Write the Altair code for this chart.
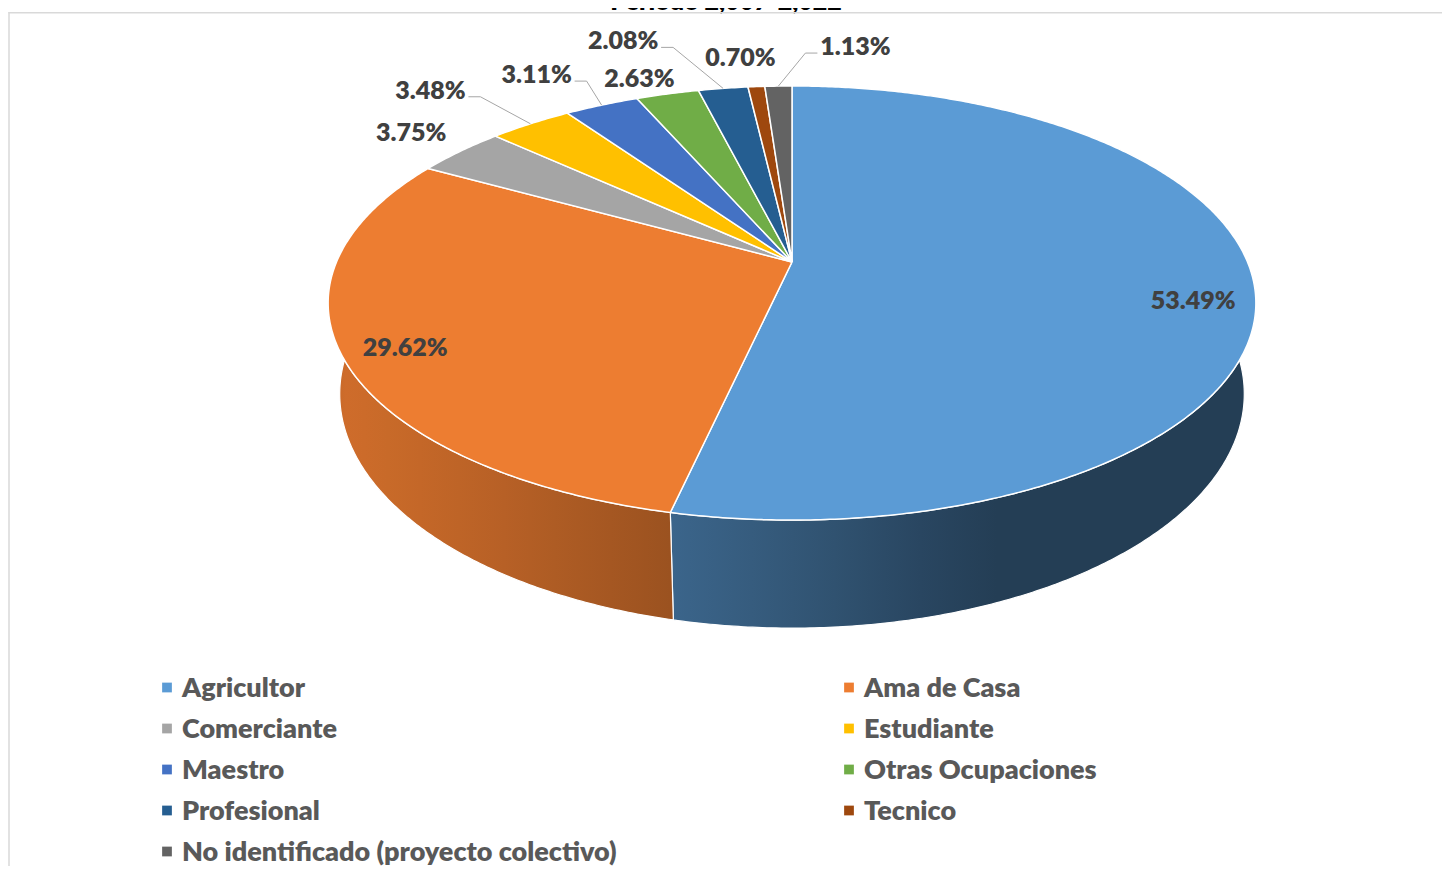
import math
import pandas as pd
import altair as alt

# ---------------- data ----------------
TITLE = "Período 2,007-2,022"
CATEGORIES = [
    "Agricultor",
    "Ama de Casa",
    "Comerciante",
    "Estudiante",
    "Maestro",
    "Otras Ocupaciones",
    "Profesional",
    "Tecnico",
    "No identificado (proyecto colectivo)",
]
PERCENTS = [53.49, 29.62, 3.75, 3.48, 3.11, 2.63, 2.08, 0.70, 1.13]
COLORS = ["#5B9BD5", "#ED7D31", "#A5A5A5", "#FFC000", "#4472C4",
          "#70AD47", "#255E91", "#9E480E", "#636363"]

# ---------------- layout / style (pixels of the drawing) ----------------
W, H = 1434, 858
CX, CY = 784.0, 254.0          # projected pie centre
RX, RY = 455.5, 209.3          # radii of the tilted disc
DEPTH = 5.29                   # perspective distance (in radii)
THICK = 87.6                   # pie thickness
BOTTOM_SHRINK = 0.975
INSIDE_R = 0.87
# label nudges (like dragged Excel labels), relative to slice anchor
LABEL_NUDGE = [(0, 18), (1, 5), (-49, -19), (-100, -34), (-65, -31),
               (-28, -16), (-100, -48), (-16, -30), (77, -40)]
LEGEND_COL_X = [159, 841]
LEGEND_ROW0 = 679.5
LEGEND_ROW_STEP = 41
FONT = "Lato"
WEIGHT = 800


def project(a_deg, r=1.0, bottom=False):
    a = math.radians(a_deg)
    u = r * math.sin(a)
    v = -r * math.cos(a)
    s = DEPTH / (DEPTH - v)
    k = BOTTOM_SHRINK if bottom else 1.0
    drop = THICK * s if bottom else 0.0
    return CX + RX * k * u * s, CY + RY * v * s + drop


def arc_angles(a0, a1, step=0.5):
    n = max(2, int(math.ceil((a1 - a0) / step)) + 1)
    return [a0 + (a1 - a0) * i / (n - 1) for i in range(n)]


def shade(a_deg):
    return 0.40 + 0.47 * max(0.0, math.cos(math.radians(a_deg - 250)))


def scale_hex(hex_color, f):
    rgb = [int(hex_color[i:i + 2], 16) for i in (1, 3, 5)]
    return "#%02x%02x%02x" % tuple(min(255, int(round(c * f))) for c in rgb)


total = sum(PERCENTS)
bounds = []
acc = 0.0
for p in PERCENTS:
    a0 = acc / total * 360.0
    acc += p
    a1 = acc / total * 360.0
    bounds.append((a0, a1))

# top faces
face_rows = []
for cat, (a0, a1) in zip(CATEGORIES, bounds):
    pts = [(CX, CY)] + [project(a) for a in arc_angles(a0, a1)] + [(CX, CY)]
    for i, (x, y) in enumerate(pts):
        face_rows.append({"cat": cat, "i": i, "x": x, "y": y})
faces = pd.DataFrame(face_rows)

xs = alt.Scale(domain=[0, W], nice=False, zero=False)
ys = alt.Scale(domain=[0, H], nice=False, zero=False, reverse=True)
color = alt.Color("cat:N", scale=alt.Scale(domain=CATEGORIES, range=COLORS), legend=None)


def XQ(f="x"):
    return alt.X(f"{f}:Q", scale=xs, axis=None)


def YQ(f="y"):
    return alt.Y(f"{f}:Q", scale=ys, axis=None)


layers = []

# side walls (front half only)
for cat, col, (a0, a1) in zip(CATEGORIES, COLORS, bounds):
    lo, hi = max(a0, 90.0), min(a1, 270.0)
    if hi <= lo:
        continue
    angs = arc_angles(lo, hi)
    top = [project(a) for a in angs]
    bot = [project(a, bottom=True) for a in reversed(angs)]
    pts = top + bot + [top[0]]
    xmin = min(p[0] for p in pts)
    xmax = max(p[0] for p in pts)
    samp = [angs[int(round(j * (len(angs) - 1) / 12))] for j in range(13)]
    stops = sorted(
        [((project(a)[0] - xmin) / (xmax - xmin), scale_hex(col, shade(a))) for a in samp]
    )
    grad = alt.LinearGradient(
        gradient="linear", x1=0, x2=1, y1=0, y2=0,
        stops=[alt.GradientStop(offset=max(0.0, min(1.0, o)), color=c) for o, c in stops],
    )
    wdf = pd.DataFrame({"cat": cat, "i": list(range(len(pts))),
                        "x": [p[0] for p in pts], "y": [p[1] for p in pts]})
    layers.append(
        alt.Chart(wdf).mark_line(filled=True, fill=grad, stroke="white", strokeWidth=1.2,
                                 strokeJoin="round")
        .encode(x=XQ(), y=YQ(), detail="cat:N", order=alt.Order("i:Q"))
    )

layers.append(
    alt.Chart(faces).mark_line(filled=True, stroke="white", strokeWidth=1.5, strokeJoin="round")
    .encode(x=XQ(), y=YQ(), color=color, detail="cat:N", order=alt.Order("i:Q"))
)

# data labels + leader lines
label_rows, leader_rows = [], []
for cat, p, (a0, a1), (dx, dy) in zip(CATEGORIES, PERCENTS, bounds, LABEL_NUDGE):
    mid = (a0 + a1) / 2
    r = INSIDE_R if p >= 10 else 1.0
    ax, ay = project(mid, r)
    lx, ly = ax + dx, ay + dy
    label_rows.append({"cat": cat, "text": f"{p:.2f}%", "x": lx, "y": ly + 9})
    if math.hypot(dx, dy) > 60:
        sgn = 1 if ax > lx else -1
        for i, (x, y) in enumerate([(ax, ay), (lx + sgn * 50, ly + 7), (lx + sgn * 38, ly + 7)]):
            leader_rows.append({"cat": cat, "i": i, "x": x, "y": y})
labels = pd.DataFrame(label_rows)
leaders = pd.DataFrame(leader_rows)

layers.append(
    alt.Chart(leaders).mark_line(color="#A6A6A6", strokeWidth=1)
    .encode(x=XQ(), y=YQ(), detail="cat:N", order=alt.Order("i:Q"))
)
layers.append(
    alt.Chart(labels).mark_text(font=FONT, fontWeight=WEIGHT, fontSize=25, color="#404040",
                                align="center", baseline="alphabetic")
    .encode(x=XQ(), y=YQ(), text="text:N")
)

# legend
leg_rows = []
for i, cat in enumerate(CATEGORIES):
    c, r = i % 2, i // 2
    x = LEGEND_COL_X[c]
    y = LEGEND_ROW0 + r * LEGEND_ROW_STEP
    leg_rows.append({"cat": cat, "x": x, "y": y, "tx": x + 15, "ty": y + 9.5})
leg = pd.DataFrame(leg_rows)
layers.append(
    alt.Chart(leg).mark_square(size=95, opacity=1)
    .encode(x=XQ(), y=YQ(), color=color)
)
layers.append(
    alt.Chart(leg).mark_text(font=FONT, fontWeight=WEIGHT, fontSize=27, color="#595959",
                             align="left", baseline="alphabetic")
    .encode(x=XQ("tx"), y=YQ("ty"), text="cat:N")
)

# chart frame and (cropped, as in the source image) title
one = pd.DataFrame({"k": [0]})
layers.append(
    alt.Chart(one).mark_text(text=TITLE, font=FONT, fontWeight=WEIGHT, fontSize=25,
                             color="#000000", align="center", baseline="alphabetic")
    .encode(x=alt.value(718), y=alt.value(2))
)
layers.append(
    alt.Chart(one).mark_rule(color="#D9D9D9", strokeWidth=1.5)
    .encode(x=alt.value(0.5), x2=alt.value(W), y=alt.value(4.7))
)
layers.append(
    alt.Chart(one).mark_rule(color="#D9D9D9", strokeWidth=1.5)
    .encode(x=alt.value(1), y=alt.value(4), y2=alt.value(H))
)

chart = (
    alt.layer(*layers)
    .properties(width=W, height=H, padding=0, autosize=alt.AutoSizeParams(type="none"))
    .configure_view(stroke=None)
)

chart.save("out.html", embed_options={"renderer": "svg", "actions": False})
